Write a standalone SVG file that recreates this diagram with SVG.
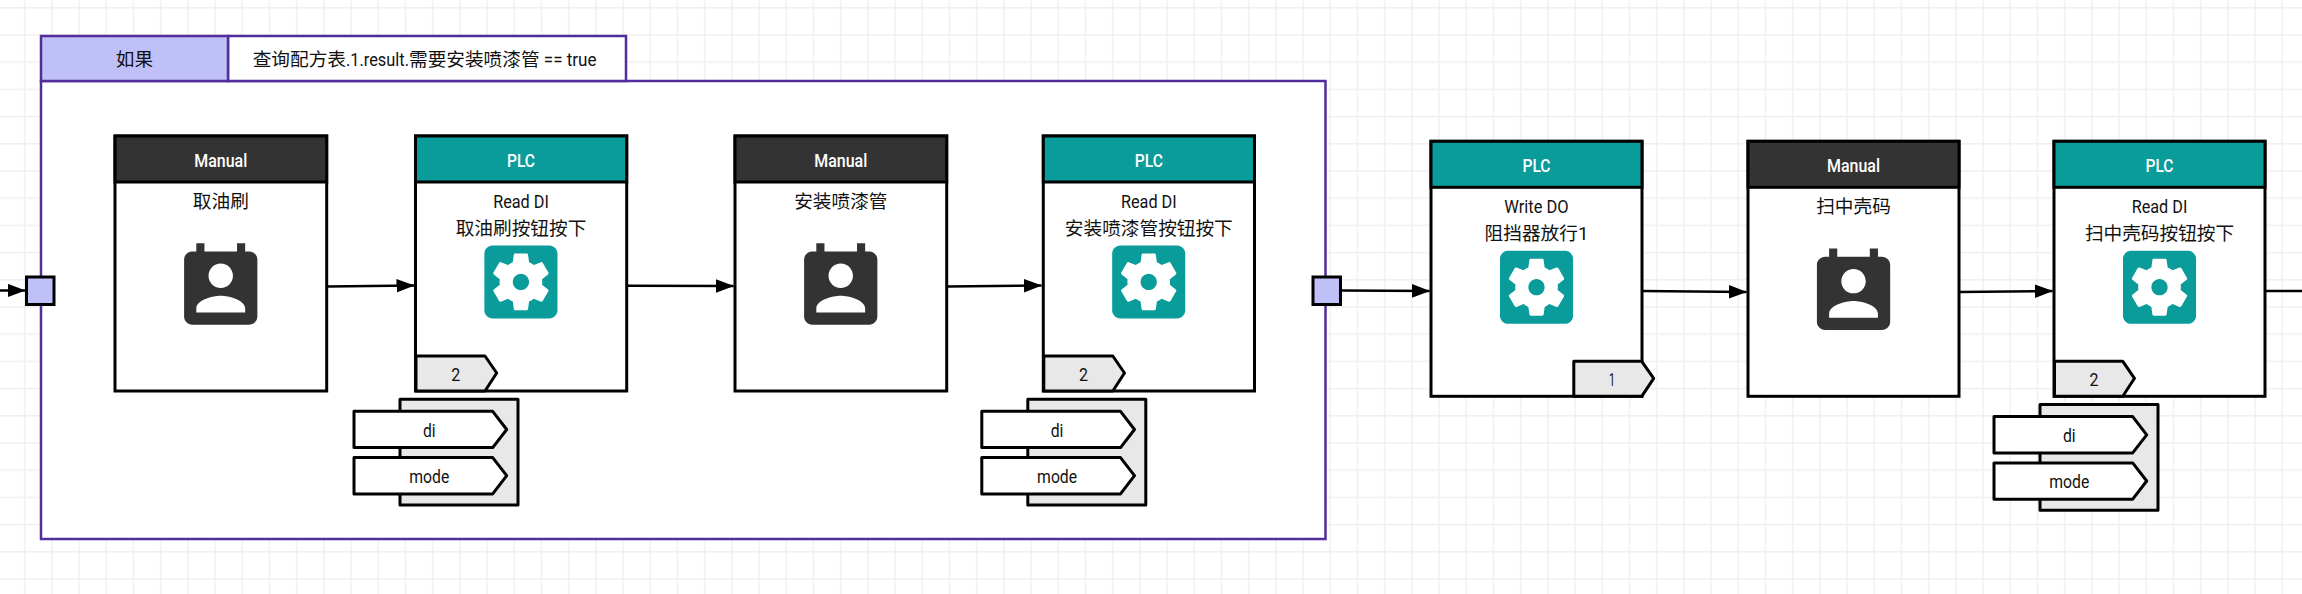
<svg xmlns="http://www.w3.org/2000/svg" width="2302" height="594" viewBox="0 0 2302 594">
<style>
text{font-family:"Roboto","Noto Sans CJK SC",sans-serif;font-size:18.67px;fill:#111;text-anchor:middle}
.hd{font-weight:500;fill:#fff}
.st{text-anchor:start}
.box{fill:#fff;stroke:#000;stroke-width:3}
.man{fill:#333;stroke:#000;stroke-width:3}
.plc{fill:#0a9c9a;stroke:#000;stroke-width:3}
.tag,.blk{fill:#e8e8e8;stroke:#000;stroke-width:3;stroke-linejoin:round}
.pill{fill:#fff;stroke:#000;stroke-width:3;stroke-linejoin:round}
.port{fill:#bfc0f7;stroke:#000;stroke-width:3}
.fr{stroke:#512e9b;stroke-width:2.5}
.con{fill:none;stroke:#000;stroke-width:2.5;marker-end:url(#arr)}
</style>
<defs>
<pattern id="grid" patternUnits="userSpaceOnUse" x="23.8" y="7" width="27.2" height="27.2">
<rect width="27.2" height="27.2" fill="#fff"/>
<rect width="1.5" height="27.2" fill="#f0f0f0"/>
<rect width="27.2" height="1.5" fill="#f0f0f0"/>
</pattern>
<marker id="arr" markerUnits="userSpaceOnUse" markerWidth="18" markerHeight="14" refX="17.5" refY="7" orient="auto">
<path d="M0 0.2L18 7L0 13.8z" fill="#000"/>
</marker>
<path id="gear" fill="#0a9c9a" d="M12 10c-1.1 0-2 .9-2 2s.9 2 2 2 2-.9 2-2-.9-2-2-2zm7-7H5c-1.1 0-2 .9-2 2v14c0 1.1.9 2 2 2h14c1.1 0 2-.9 2-2V5c0-1.1-.9-2-2-2zm-1.75 9c0 .23-.02.46-.05.68l1.48 1.16c.13.11.17.3.08.45l-1.4 2.42c-.09.15-.27.21-.43.15l-1.74-.7c-.36.28-.76.51-1.18.69l-.26 1.85c-.03.17-.18.3-.35.3h-2.8c-.17 0-.32-.13-.35-.3l-.26-1.85c-.42-.18-.82-.41-1.18-.69l-1.74.7c-.16.06-.34 0-.43-.15l-1.4-2.42c-.09-.15-.05-.34.08-.45l1.48-1.16c-.03-.22-.05-.45-.05-.68 0-.23.02-.46.05-.68l-1.48-1.16c-.13-.11-.17-.3-.08-.45l1.4-2.42c.09-.15.27-.21.43-.15l1.74.7c.36-.28.76-.51 1.18-.69l.26-1.85c.03-.17.18-.3.35-.3h2.8c.17 0 .32.13.35.3l.26 1.85c.42.18.82.41 1.18.69l1.74-.7c.16-.06.34 0 .43.15l1.4 2.42c.09.15.05.34-.08.45l-1.48 1.16c.03.22.05.45.05.68z"/>
<path id="cal" fill="#333" d="M19 3h-1V1h-2v2H8V1H6v2H5c-1.11 0-2 .9-2 2v14c0 1.1.89 2 2 2h14c1.1 0 2-.9 2-2V5c0-1.1-.9-2-2-2zm-7 3c1.66 0 3 1.34 3 3s-1.34 3-3 3-3-1.34-3-3 1.34-3 3-3zm6 12H6v-1c0-2 4-3.1 6-3.1s6 1.1 6 3.1v1z"/>
<g id="data">
<rect class="blk" x="46" y="0" width="118" height="105.7"/>
<path class="pill" d="M0 12H138.7L152.7 30.2L138.7 48.3H0z"/>
<path class="pill" d="M0 58.3H138.7L152.7 76.4L138.7 94.6H0z"/>
</g>
</defs>
<rect width="2302" height="594" fill="url(#grid)"/>

<g id="frame">
<rect class="fr" x="41" y="81" width="1284.5" height="458" fill="#fff"/>
<rect class="fr" x="228" y="36" width="398" height="45" fill="#fff"/>
<rect class="fr" x="41" y="36" width="187" height="45" fill="#bfc0f7"/>
<text x="134.5" y="65.5">如果</text>
<text class="st" x="252.7" y="65.5">查询配方表<tspan textLength="63" lengthAdjust="spacingAndGlyphs">.1.result.</tspan>需要安装喷漆管<tspan textLength="57" lengthAdjust="spacingAndGlyphs"> == true</tspan></text>
</g>

<g id="connectors">
<path class="con" d="M0 290.5H25"/>
<path class="con" d="M327 286.5L414 285.5"/>
<path class="con" d="M627 285.7L733.5 286"/>
<path class="con" d="M947 286.5L1041.5 285.5"/>
<path class="con" d="M1341 290.5L1429.5 291"/>
<path class="con" d="M1642 291L1746.5 292"/>
<path class="con" d="M1959 292L2052.5 291"/>
<path d="M2265 291H2302" fill="none" stroke="#000" stroke-width="2.5"/>
</g>

<g id="port-in"><rect class="port" x="26.5" y="277" width="27.5" height="27.5"/></g>
<g id="port-out"><rect class="port" x="1313" y="277" width="27.5" height="27.5"/></g>

<g id="n1">
<rect class="box" x="115" y="136" width="211.7" height="255"/>
<rect class="man" x="115" y="136" width="211.7" height="46"/>
<text class="hd" x="220.8" y="166.7" textLength="53" lengthAdjust="spacingAndGlyphs">Manual</text>
<text x="220.8" y="208">取油刷</text>
<use href="#cal" transform="translate(171.9 239.2) scale(4.07)"/>
</g>

<g id="n2">
<rect class="box" x="415.5" y="136" width="211.2" height="255"/>
<rect class="plc" x="415.5" y="136" width="211.2" height="46"/>
<text class="hd" x="521" y="166.7" textLength="28" lengthAdjust="spacingAndGlyphs">PLC</text>
<text x="521" y="208" textLength="55.7" lengthAdjust="spacingAndGlyphs">Read DI</text>
<text x="521" y="235">取油刷按钮按下</text>
<use href="#gear" transform="translate(472.2 233.2) scale(4.06)"/>
<path class="tag" d="M416 356H485L496.7 373L485 391H416z"/>
<text x="455.7" y="380.7" textLength="9" lengthAdjust="spacingAndGlyphs">2</text>
<use href="#data" transform="translate(354 399.3)"/>
<text x="429.3" y="436.7" textLength="12.7" lengthAdjust="spacingAndGlyphs">di</text>
<text x="429.3" y="482.7" textLength="40" lengthAdjust="spacingAndGlyphs">mode</text>
</g>

<g id="n3">
<rect class="box" x="735" y="136" width="211.7" height="255"/>
<rect class="man" x="735" y="136" width="211.7" height="46"/>
<text class="hd" x="840.8" y="166.7" textLength="53" lengthAdjust="spacingAndGlyphs">Manual</text>
<text x="840.8" y="208">安装喷漆管</text>
<use href="#cal" transform="translate(791.9 239.2) scale(4.07)"/>
</g>

<g id="n4">
<rect class="box" x="1043.3" y="136" width="211.2" height="255"/>
<rect class="plc" x="1043.3" y="136" width="211.2" height="46"/>
<text class="hd" x="1148.8" y="166.7" textLength="28" lengthAdjust="spacingAndGlyphs">PLC</text>
<text x="1148.8" y="208" textLength="55.7" lengthAdjust="spacingAndGlyphs">Read DI</text>
<text x="1148.8" y="235">安装喷漆管按钮按下</text>
<use href="#gear" transform="translate(1100 233.2) scale(4.06)"/>
<path class="tag" d="M1043.8 356H1112.8L1124.5 373L1112.8 391H1043.8z"/>
<text x="1083.5" y="380.7" textLength="9" lengthAdjust="spacingAndGlyphs">2</text>
<use href="#data" transform="translate(981.8 399.3)"/>
<text x="1057.1" y="436.7" textLength="12.7" lengthAdjust="spacingAndGlyphs">di</text>
<text x="1057.1" y="482.7" textLength="40" lengthAdjust="spacingAndGlyphs">mode</text>
</g>

<g id="n5">
<rect class="box" x="1431" y="141.3" width="211" height="255"/>
<rect class="plc" x="1431" y="141.3" width="211" height="46"/>
<text class="hd" x="1536.5" y="172" textLength="28" lengthAdjust="spacingAndGlyphs">PLC</text>
<text x="1536.5" y="213.3" textLength="64.4" lengthAdjust="spacingAndGlyphs">Write DO</text>
<text x="1536.5" y="240.3">阻挡器放行1</text>
<use href="#gear" transform="translate(1487.8 238.5) scale(4.06)"/>
<path class="tag" d="M1573.8 361.3H1641.7L1653.7 378.3L1641.7 396.3H1573.8z"/>
<text x="1612" y="386" textLength="6" lengthAdjust="spacingAndGlyphs">1</text>
</g>

<g id="n6">
<rect class="box" x="1748" y="141.3" width="211" height="255"/>
<rect class="man" x="1748" y="141.3" width="211" height="46"/>
<text class="hd" x="1853.5" y="172" textLength="53" lengthAdjust="spacingAndGlyphs">Manual</text>
<text x="1853.5" y="213.3">扫中壳码</text>
<use href="#cal" transform="translate(1804.7 244.5) scale(4.07)"/>
</g>

<g id="n7">
<rect class="box" x="2054" y="141.3" width="211" height="255"/>
<rect class="plc" x="2054" y="141.3" width="211" height="46"/>
<text class="hd" x="2159.5" y="172" textLength="28" lengthAdjust="spacingAndGlyphs">PLC</text>
<text x="2159.5" y="213.3" textLength="55.7" lengthAdjust="spacingAndGlyphs">Read DI</text>
<text x="2159.5" y="240.3">扫中壳码按钮按下</text>
<use href="#gear" transform="translate(2110.8 238.5) scale(4.06)"/>
<path class="tag" d="M2054.5 361.3H2122.8L2134.5 378.3L2122.8 396.3H2054.5z"/>
<text x="2094" y="386" textLength="9" lengthAdjust="spacingAndGlyphs">2</text>
<use href="#data" transform="translate(1994 404.6)"/>
<text x="2069.3" y="442" textLength="12.7" lengthAdjust="spacingAndGlyphs">di</text>
<text x="2069.3" y="488" textLength="40" lengthAdjust="spacingAndGlyphs">mode</text>
</g>
</svg>
